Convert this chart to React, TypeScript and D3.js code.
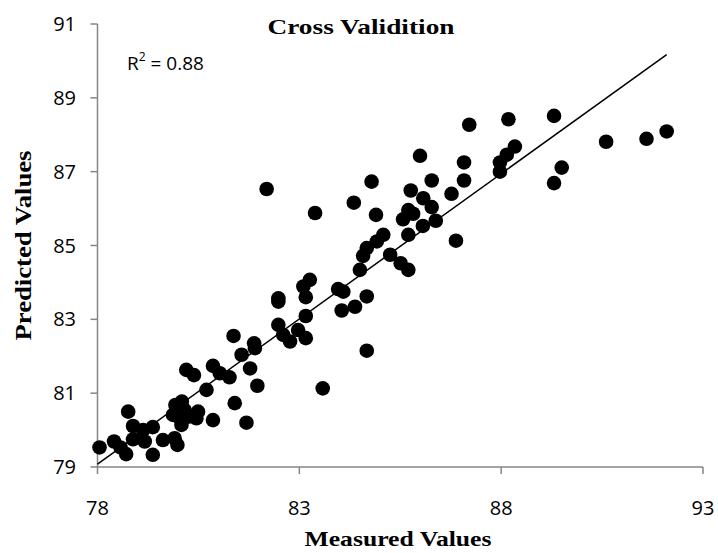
import React from 'react';
import * as d3 from 'd3';

// measured (x) / predicted (y) pairs
const measured = [
    78.05, 78.41, 78.57, 78.71, 78.76, 78.88, 79.13, 79.37, 78.88, 79.17,
    79.37, 79.62, 79.91, 79.98, 79.93, 80.09, 79.87, 80.04, 80.16, 80.08,
    80.24, 80.49, 80.45, 80.86, 80.20, 80.39, 80.70, 80.86, 81.03, 81.27,
    81.40, 81.57, 81.37, 81.78, 81.88, 81.90, 81.96, 83.58, 81.69,
    82.48, 82.48, 82.48, 82.60, 82.77, 82.97, 83.16, 83.16, 83.10, 83.26,
    83.16, 83.96, 84.05, 82.19, 83.39, 84.79, 84.35, 84.90, 85.08, 84.92,
    84.67, 84.58, 84.50, 85.25, 84.67, 84.67, 84.09, 84.38,
    85.99, 87.08, 87.08, 86.28, 86.77, 85.76, 86.07, 86.28, 85.70, 85.82,
    85.57, 86.06, 86.38, 85.70, 86.88, 85.51, 85.70, 87.97, 88.14, 88.34,
    87.97, 87.21, 88.18, 89.31, 89.50, 89.31, 90.60, 91.60, 92.10,
];
const predicted = [
    79.53, 79.69, 79.53, 79.35, 80.50, 80.11, 80.00, 80.08, 79.75, 79.69,
    79.33, 79.73, 79.78, 79.60, 80.68, 80.77, 80.41, 80.32, 80.54, 80.14,
    80.36, 80.50, 80.32, 80.27, 81.63, 81.49, 81.09, 81.74, 81.54, 81.43,
    80.73, 82.04, 82.55, 81.67, 82.35, 82.22, 81.20, 81.13, 80.20,
    83.57, 83.48, 82.85, 82.58, 82.40, 82.71, 82.49, 83.09, 83.89, 84.07,
    83.60, 83.82, 83.24, 86.53, 85.88, 86.73, 86.16, 85.83, 85.29, 85.11,
    84.93, 84.72, 84.34, 84.75, 83.62, 82.15, 83.75, 83.34,
    87.43, 87.25, 86.76, 86.76, 86.40, 86.49, 86.28, 86.04, 85.96, 85.86,
    85.71, 85.53, 85.67, 85.29, 85.13, 84.52, 84.34, 87.25, 87.46, 87.68,
    87.00, 88.27, 88.42, 88.51, 87.11, 86.69, 87.81, 87.89, 88.09,
];

const xTicks = [78, 83, 88, 93];
const yTicks = [79, 81, 83, 85, 87, 89, 91];

// linear trendline
const trendSlope = 0.787;
const trendIntercept = 17.69;

const W = 718;
const H = 553;
const AXIS = '#868686';
const LABEL_FONT = '"Open Sans", "Liberation Sans", sans-serif';
const TITLE_FONT = '"Liberation Serif", "DejaVu Serif", serif';

export default function App() {
    const x = d3.scaleLinear().domain([78, 93]).range([97.5, 703]);
    const y = d3.scaleLinear().domain([79, 91]).range([467, 24]);

    const points = measured.map((m, i) => ({ m, p: predicted[i] }));
    const xEnd = d3.max(measured) as number;
    const trend = [78, xEnd].map(v => [v, trendSlope * v + trendIntercept] as [number, number]);
    const line = d3.line<[number, number]>()
        .x(d => x(d[0]))
        .y(d => y(d[1]));

    const [x0, x1] = x.range();
    const [y0, y1] = y.range();

    return (
        <svg width={W} height={H} style={{ position: 'absolute', left: 0, top: 0, background: '#fff' }}>
            <rect width={W} height={H} fill="#fff" />

            {/* axes */}
            <line x1={x0} x2={x0} y1={y1} y2={y0} stroke={AXIS} strokeWidth={1.5} />
            <line x1={x0} x2={x1} y1={y0} y2={y0} stroke={AXIS} strokeWidth={1.5} />

            {yTicks.map(t => (
                <g key={`y${t}`}>
                    <line x1={x0 - 7} x2={x0} y1={y(t)} y2={y(t)} stroke={AXIS} strokeWidth={1.5} />
                    <text x={76} y={y(t)} dy="0.35em" textAnchor="end"
                        fontFamily={LABEL_FONT} fontSize={20} fill="#000">{t}</text>
                </g>
            ))}
            {xTicks.map(t => (
                <g key={`x${t}`}>
                    <line x1={x(t)} x2={x(t)} y1={y0} y2={y0 + 7} stroke={AXIS} strokeWidth={1.5} />
                    <text x={x(t)} y={508} dy="0.35em" textAnchor="middle"
                        fontFamily={LABEL_FONT} fontSize={20} fill="#000">{t}</text>
                </g>
            ))}

            {/* trendline */}
            <path d={line(trend) || ''} fill="none" stroke="#000" strokeWidth={1.5} />

            {/* points */}
            {points.map((d, i) => (
                <circle key={i} cx={x(d.m)} cy={y(d.p)} r={7.3} fill="#000" />
            ))}

            {/* titles */}
            <text x={361} y={26} dy="0.35em" textAnchor="middle" fontFamily={TITLE_FONT}
                fontWeight="bold" fontSize={22} textLength={187} lengthAdjust="spacingAndGlyphs">Cross Validition</text>
            <text x={398} y={538} dy="0.35em" textAnchor="middle" fontFamily={TITLE_FONT}
                fontWeight="bold" fontSize={22} textLength={187} lengthAdjust="spacingAndGlyphs">Measured Values</text>
            <text transform={`translate(23,${(y0 + y1) / 2}) rotate(-90)`} dy="0.35em" textAnchor="middle"
                fontFamily={TITLE_FONT} fontWeight="bold" fontSize={23} textLength={190}
                lengthAdjust="spacingAndGlyphs">Predicted Values</text>

            <text x={127} y={63} dy="0.35em" fontFamily={LABEL_FONT} fontSize={19} fill="#000">
                R<tspan fontSize={12} dy="-0.7em">2</tspan><tspan dy="0.45em"> = 0.88</tspan>
            </text>
        </svg>
    );
}
